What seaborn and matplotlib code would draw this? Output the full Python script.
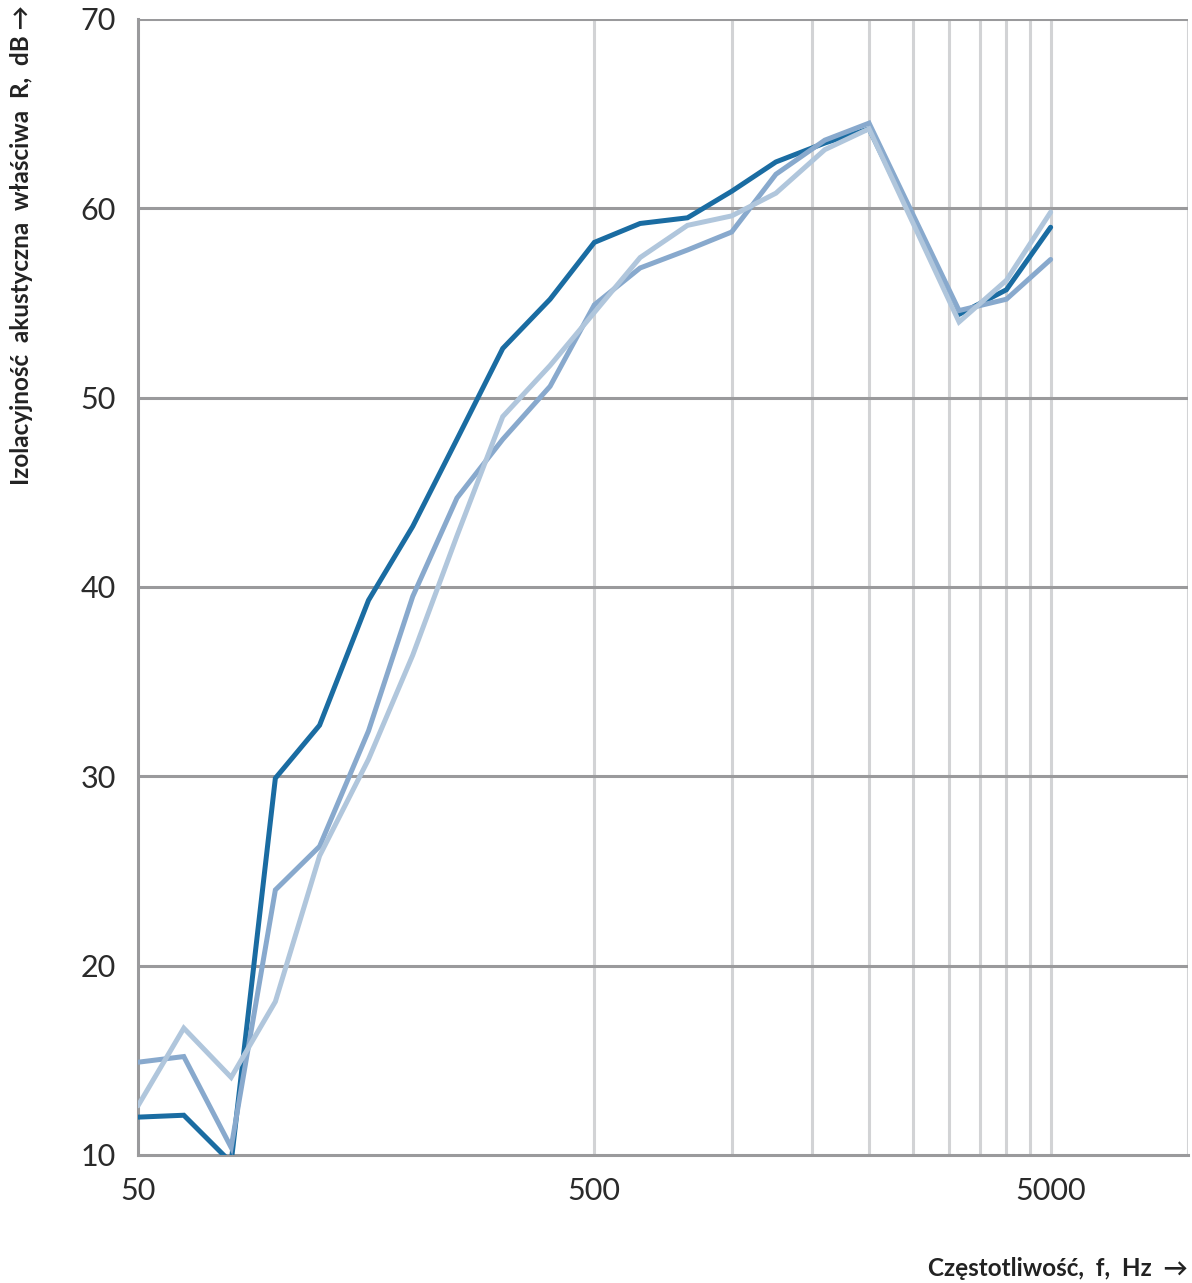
import matplotlib
matplotlib.use("Agg")
import matplotlib.pyplot as plt
import seaborn as sns
import pandas as pd
import numpy as np
from matplotlib.ticker import FixedLocator, NullLocator, FixedFormatter

freq = [50, 63, 80, 100, 125, 160, 200, 250, 315, 400, 500, 630, 800,
        1000, 1250, 1600, 2000, 3150, 4000, 5000]
series_a = [12.0, 12.1, 9.6, 29.9, 32.7, 39.3, 43.2, 47.8, 52.6, 55.2, 58.2,
            59.2, 59.5, 60.9, 62.45, 63.45, 64.2, 54.4, 55.7, 59.0]
series_b = [14.9, 15.2, 10.4, 24.0, 26.3, 32.4, 39.5, 44.7, 47.8, 50.6, 54.9,
            56.85, 57.8, 58.75, 61.8, 63.6, 64.5, 54.6, 55.2, 57.3]
series_c = [12.6, 16.7, 14.1, 18.1, 25.8, 30.9, 36.4, 42.7, 49.0, 51.7, 54.5,
            57.4, 59.1, 59.6, 60.8, 63.1, 64.2, 54.0, 56.2, 59.8]
series_names = ["A", "B", "C"]
colors = ["#1a6ca2", "#88a9cd", "#b0c6dc"]

y_ticks = [10, 20, 30, 40, 50, 60, 70]
x_ticks = [50, 500, 5000]
x_tick_labels = ["50", "500", "5000"]
v_grid = [500, 1000, 1500, 2000, 2500, 3000, 3500, 4000, 4500, 5000, 10000]

df = pd.DataFrame({
    "f": freq * 3,
    "R": series_a + series_b + series_c,
    "s": [n for n in series_names for _ in freq],
})

sns.set_style("white")
plt.rcParams["font.family"] = ["Lato", "DejaVu Sans"]

fig = plt.figure(figsize=(11.92, 12.83), dpi=100)
ax = fig.add_axes([138 / 1192, 1 - 1155 / 1283, (1188 - 138) / 1192, (1155 - 19) / 1283])

ax.set_xscale("log")
ax.set_xlim(50, 10000)
ax.set_ylim(10, 70)

for v in v_grid:
    ax.axvline(v, color="#d2d3d5", lw=2.2, zorder=1)
for yv in y_ticks[1:]:
    ax.axhline(yv, color="#9a9a9c", lw=2.2, zorder=2)

sns.lineplot(data=df, x="f", y="R", hue="s", palette=colors, lw=3.6,
             legend=False, ax=ax, zorder=3, solid_joinstyle="miter",
             solid_capstyle="round")
for i, line in enumerate(ax.get_lines()[-3:]):
    line.set_zorder(3 + i)

ax.xaxis.set_major_locator(FixedLocator(x_ticks))
ax.xaxis.set_major_formatter(FixedFormatter(x_tick_labels))
ax.xaxis.set_minor_locator(NullLocator())
ax.set_yticks(y_ticks)

for side in ["top", "right"]:
    ax.spines[side].set_visible(False)
for side in ["left", "bottom"]:
    ax.spines[side].set_color("#9a9a9c")
    ax.spines[side].set_linewidth(2.2)
    ax.spines[side].set_zorder(2.5)

ax.tick_params(axis="both", which="major", length=8, width=2.2, color="#9a9a9c",
               labelsize=22, labelcolor="#2a2a2a")
ax.tick_params(axis="x", pad=8)
ax.tick_params(axis="y", pad=8)
for lab in ax.get_xticklabels() + ax.get_yticklabels():
    lab.set_fontweight("normal")

ax.set_xlabel("")
ax.set_ylabel("")

fig.text(22 / 1192, 1 - 5 / 1283, "Izolacyjność  akustyczna  właściwa  R,  dB \u2192",
         rotation=90, ha="center", va="top", fontsize=17.5, fontweight="bold",
         color="#222222")
fig.text(1188 / 1192, 1 - 1268 / 1283, "Częstotliwość,  f,  Hz  \u2192",
         ha="right", va="center", fontsize=17.5, fontweight="bold", color="#222222")

fig.savefig("out.png", dpi=100)
